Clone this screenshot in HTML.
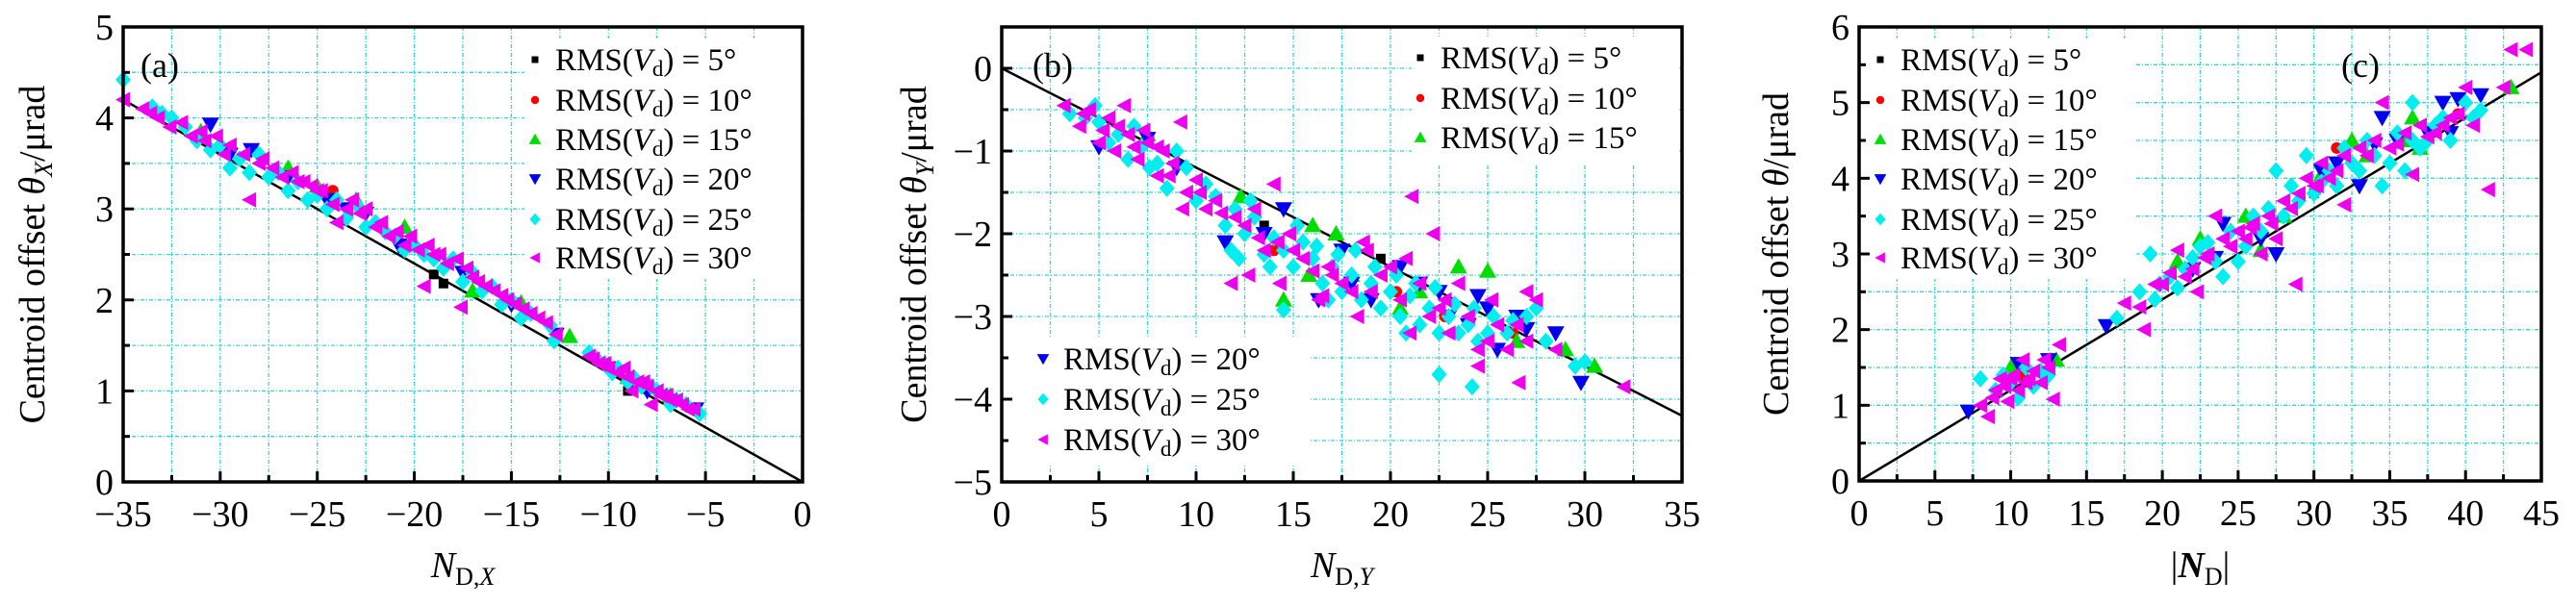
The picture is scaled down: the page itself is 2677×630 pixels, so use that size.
<!DOCTYPE html>
<html><head><meta charset="utf-8">
<style>
html,body{margin:0;padding:0;background:#fff;}
svg{display:block;}
svg text{font-family:"Liberation Serif","DejaVu Serif",serif;}
</style></head>
<body>
<svg id="chart" font-family="Liberation Serif, serif" width="2677" height="630" viewBox="0 0 2677 630" xmlns="http://www.w3.org/2000/svg"></svg>
<script>
// ---------- data: panel (a) ----------
const aBlack=[[-19,2.28],[-18.5,2.18],[-9,1.0]];
const aRed=[[-24.2,3.2],[-21,2.7]];
const aGreen=[[-31,3.85],[-26.5,3.45],[-25,3.25],[-20.5,2.8],[-17,2.1],[-14.5,1.97],[-9,1.15],[-6.8,0.95],[-23,3.1],[-12,1.6]];
const aBlue=[[-30.5,3.93],[-28.4,3.65],[-26.5,3.35],[-24.5,3.1],[-22.5,2.95],[-20.8,2.6],[-17.5,2.3],[-15,1.95],[-12.7,1.62],[-10,1.25],[-8,1.0],[-5.5,0.8],[-29.5,3.6],[-23.5,3.0]];
const aCyan=[[-35,4.42],[-33.5,4.12],[-32.5,4.0],[-31.2,3.75],[-30,3.7],[-29,3.55],[-28,3.6],[-27,3.4],[-26,3.3],[-25,3.15],[-24,3.1],[-23,3.05],[-22,2.85],[-21,2.7],[-20,2.6],[-19,2.45],[-18,2.45],[-17,2.3],[-16,2.15],[-15,2.0],[-14,1.85],[-13,1.72],[-12.8,1.55],[-11,1.42],[-10.2,1.3],[-9.5,1.25],[-9,1.1],[-8.3,1.05],[-7.5,1.0],[-7,0.95],[-6.5,0.9],[-6,0.85],[-5.3,0.75],[-33,4.05],[-31.8,3.9],[-30.5,3.65],[-29.5,3.45],[-28.5,3.4],[-27.5,3.35],[-26.5,3.2],[-25.5,3.1],[-24.5,3.0],[-23.5,2.9],[-22.5,2.8],[-21.5,2.75],[-20.5,2.55],[-19.5,2.5],[-18.5,2.35],[-17.5,2.2],[-16.5,2.1],[-15.5,1.95],[-14.5,1.8],[-10.6,1.35],[-9.8,1.2],[-8.7,1.15],[-7.8,1.05],[-6.8,0.85]];
const aMagenta=[[-34,4.1],[-33.2,4.0],[-32,3.95],[-31,3.85],[-30.2,3.8],[-29.5,3.7],[-28.8,3.6],[-28.5,3.1],[-28,3.5],[-27.3,3.45],[-26.8,3.35],[-26,3.3],[-25.3,3.25],[-24.8,3.2],[-24.2,3.05],[-24,2.85],[-23.5,3.0],[-22.8,2.95],[-22,2.8],[-21.3,2.7],[-20.5,2.6],[-19.8,2.55],[-19.5,2.15],[-19,2.5],[-18.3,2.4],[-17.8,2.45],[-17.6,1.92],[-17,2.25],[-16.3,2.15],[-15.5,2.05],[-14.8,1.95],[-14,1.85],[-13.2,1.75],[-12.7,1.62],[-11,1.38],[-10.5,1.3],[-10,1.25],[-9.5,1.2],[-9,1.15],[-8.8,1.0],[-8.5,1.1],[-8,1.05],[-7.8,0.85],[-7.3,0.95],[-6.8,0.9],[-6.2,0.85],[-5.6,0.8],[-35,4.2],[-33.6,4.05],[-32.6,3.9],[-31.5,3.8],[-30.8,3.75],[-29.8,3.6],[-27.8,3.55],[-26.3,3.4],[-25.7,3.3],[-25,3.2],[-23.2,3.1],[-22.5,3.0],[-21.7,2.85],[-20.9,2.75],[-20.2,2.7],[-19.3,2.6],[-18.7,2.5],[-17.3,2.35],[-16.7,2.2],[-15.9,2.1],[-15.2,2.0],[-14.4,1.9],[-13.6,1.8],[-10.8,1.35],[-10.2,1.3],[-9.2,1.25],[-8.2,1.1],[-7.5,1.0],[-7,0.95],[-6.5,0.9],[-5.9,0.8]];
// ---------- data: panel (b) ----------
const bBlack=[[13.5,-1.9],[19.5,-2.3]];
const bRed=[[20.3,-2.7],[22.8,-3.0],[26.3,-3.2],[14,-2.2]];
const bGreen=[[7.5,-0.8],[12.3,-1.55],[14.5,-2.8],[16,-1.9],[17.2,-2.0],[18,-2.5],[20.5,-2.9],[23.5,-2.4],[25,-2.45],[26.5,-3.3],[29,-3.4],[30.5,-3.6],[15.8,-2.5],[21.5,-2.7]];
const bBlue=[[5,-0.95],[7.5,-0.85],[9,-1.2],[11.5,-2.1],[14.5,-1.7],[16.3,-2.8],[17.5,-2.2],[19,-2.8],[20.5,-2.4],[21.5,-2.6],[22.5,-2.7],[23,-3.0],[24,-3.1],[25,-2.9],[26.5,-3.0],[28.5,-3.2],[29.8,-3.8],[25.5,-3.4],[13.5,-2.0],[18,-2.6],[24.5,-2.75],[27,-3.15]];
const bCyan=[[3.5,-0.55],[4.3,-0.6],[5,-0.65],[6,-0.8],[6.5,-1.1],[7.2,-0.95],[8,-1.15],[8.5,-1.45],[9.5,-1.2],[10,-1.6],[11,-1.55],[11.5,-1.9],[12.5,-2.0],[13,-1.8],[13.5,-2.25],[14,-2.05],[14.5,-2.2],[15,-2.4],[15.5,-2.1],[16,-2.3],[16.5,-2.6],[17,-2.4],[17.5,-2.7],[18,-2.5],[18.5,-2.8],[19,-2.6],[19.5,-2.9],[20,-2.7],[20.5,-3.0],[21,-2.75],[21.5,-3.1],[22,-2.9],[22.5,-3.2],[23,-3.0],[23.5,-3.2],[24,-3.1],[24.5,-3.3],[25,-3.2],[26,-3.2],[27,-3.0],[27.5,-2.9],[28,-3.3],[30,-3.55],[29.5,-3.6],[24.2,-3.85],[22.5,-3.7],[14.5,-2.92],[11.8,-2.2],[12,-1.7],[4.8,-0.45],[5.5,-0.9],[6.8,-0.7],[7.6,-1.2],[9,-1.0],[10.5,-1.4],[12.8,-1.6],[13.8,-2.4],[15.2,-1.9],[16.2,-2.15],[17.3,-2.25],[18.2,-2.2],[19.2,-2.4],[20.3,-2.5],[21.3,-2.6],[22.3,-2.65],[23.3,-2.85],[24.3,-2.9],[25.3,-3.0],[26.3,-3.05],[20.8,-3.2],[16.8,-2.8],[12.2,-2.3]];
const bMagenta=[[3.2,-0.45],[4,-0.7],[4.5,-0.5],[5,-0.9],[5.5,-0.6],[5.8,-1.0],[6.3,-0.45],[6.5,-0.8],[7,-1.1],[7.5,-0.9],[8,-1.3],[8.3,-1.0],[8.6,-1.3],[9.2,-0.65],[9.5,-1.5],[10,-1.35],[10.5,-1.7],[11,-1.6],[11.8,-2.6],[12.5,-1.9],[13,-1.7],[13.5,-2.2],[14,-1.4],[14.3,-2.6],[14.8,-2.0],[15.5,-2.3],[16.3,-2.8],[16.8,-2.4],[17.5,-2.6],[18.3,-3.0],[18.8,-2.2],[19.5,-2.5],[20,-2.4],[20.8,-2.3],[21,-3.2],[21.5,-2.6],[22,-3.0],[22.5,-2.9],[23,-3.2],[23.5,-2.6],[24,-3.0],[24.5,-3.4],[25.2,-2.8],[25.5,-3.1],[26,-3.4],[26.5,-3.1],[27,-3.3],[27.5,-2.8],[28.5,-3.4],[24.5,-3.6],[26.6,-3.8],[32,-3.85],[22.2,-2.0],[21.1,-1.55],[9.3,-1.7],[18.6,-2.1],[4.2,-0.55],[5.2,-0.75],[6,-0.7],[6.8,-0.95],[7.3,-0.75],[8,-0.95],[8.8,-1.15],[10.2,-1.5],[11.3,-1.75],[12,-1.8],[13.2,-2.05],[14.2,-2.1],[15,-2.2],[16,-2.45],[17,-2.5],[18,-2.7],[19,-2.7],[20.5,-2.8],[22.8,-2.8],[25,-3.3],[27,-2.7],[16.5,-2.75],[12.7,-2.5]];
// ---------- data: panel (c) ----------
const cBlack=[[11,1.3],[30,3.8]];
const cRed=[[31.5,4.4],[39.5,4.85],[10.8,1.4]];
const cGreen=[[10,1.5],[13,1.6],[21,2.9],[22.5,3.2],[25.5,3.5],[26.5,3.05],[28,3.5],[32.5,4.5],[33.5,4.3],[36.5,4.8],[37,4.4],[43,5.2],[30.5,4.05],[36,4.5]];
const cBlue=[[7.2,0.92],[10.5,1.55],[12.5,1.6],[16.3,2.05],[22,2.8],[23.5,2.95],[24,3.4],[26.5,3.2],[27.5,3.0],[30.5,4.1],[33,3.9],[34.5,4.8],[35.5,4.5],[38.5,5.0],[39.5,5.05],[41,5.1],[39,4.6],[31.5,4.2],[34,4.45],[37.5,4.6]];
const cCyan=[[8,1.35],[9,1.2],[10,1.3],[10.5,1.1],[11,1.5],[12,1.45],[12.5,1.4],[17,2.15],[18.5,2.5],[19.2,3.0],[19.5,2.4],[20.5,2.7],[21.5,2.8],[22.5,3.1],[23.5,2.9],[24,2.7],[24.5,3.3],[25,2.9],[26,3.5],[26.5,3.3],[27,3.6],[27.5,4.1],[28,3.5],[29,3.7],[30,3.8],[31,4.1],[31.5,3.9],[32,4.4],[33,4.1],[34,4.3],[35,4.2],[35.5,4.6],[36,4.1],[36.5,5.0],[37,4.4],[38,4.7],[39,4.5],[40,5.0],[41,4.9],[34.5,3.9],[29.5,4.3],[9.5,1.4],[11.5,1.25],[19.8,2.6],[21,2.55],[22,2.95],[23,3.15],[25.5,3.1],[28.5,3.9],[30.5,3.95],[32.5,4.2],[33.5,4.5],[36.5,4.5],[37.5,4.5],[38.5,4.8],[40.5,4.8]];
const cMagenta=[[8,1.0],[8.5,0.85],[9,1.2],[9.3,1.35],[9.8,1.05],[10.2,1.4],[10.5,1.2],[10.8,1.6],[11,1.3],[11.5,1.45],[12,1.3],[12.5,1.5],[12.8,1.08],[13.2,1.8],[17.5,2.35],[18.5,2.3],[18.8,2.0],[19.5,2.6],[20.5,2.75],[21,3.05],[22,2.8],[22.3,2.5],[23,3.0],[23.5,3.5],[24,3.2],[25,3.3],[26,3.4],[26.5,3.0],[27,3.5],[27.5,3.2],[28,3.7],[28.8,2.6],[29,3.8],[29.5,4.0],[30,3.9],[30.5,4.2],[31,4.0],[32,4.3],[33,4.4],[34,4.5],[34.5,5.0],[35,4.4],[36,4.6],[36.5,4.05],[37,4.7],[38,4.6],[39,4.8],[40,5.2],[40.5,4.7],[41.5,3.85],[42.5,5.2],[43,5.7],[44,5.7],[32,3.65],[25.5,3.2],[8.8,1.1],[9.6,1.25],[10,1.35],[11.2,1.35],[12.2,1.6],[20,2.6],[21.5,2.7],[22.8,2.95],[24.5,3.1],[25.8,3.35],[27.2,3.4],[28.5,3.6],[30.2,3.9],[31.5,4.1],[33.5,4.3],[35.5,4.45],[37.5,4.55],[38.5,4.7],[39.5,4.85]];
// fit lines (endpoints in data units)
const aFit=[[-35,4.2],[0,0]];
const bFit=[[0,0],[35,-4.2]];
const cFit=[[0,0],[45,5.4]];
const aXTicks=[-35,-30,-25,-20,-15,-10,-5,0];
const aYTicks=[0,1,2,3,4,5];
const bXTicks=[0,5,10,15,20,25,30,35];
const bYTicks=[0,-1,-2,-3,-4,-5];
const cXTicks=[0,5,10,15,20,25,30,35,40,45];
const cYTicks=[0,1,2,3,4,5,6];
const legendLabels=["5°","10°","15°","20°","25°","30°"];

const NS="http://www.w3.org/2000/svg";
const svg=document.getElementById('chart');
function el(tag,attrs,parent){const e=document.createElementNS(NS,tag);for(const k in attrs)e.setAttribute(k,attrs[k]);(parent||svg).appendChild(e);return e;}
const COLORS=['#000000','#ff0000','#00dd00','#0000ee','#00eeee','#ee00ee'];
const KINDS=['square','circle','up','down','diamond','left'];
function marker(g,kind,x,y,color,sc){
  const k=sc||1;
  let e;
  if(kind==='square'){e=el('rect',{x:x-5*k,y:y-5*k,width:10*k,height:10*k,fill:color},g);}
  else if(kind==='circle'){e=el('circle',{cx:x,cy:y,r:6*k,fill:color},g);}
  else{
    let p;
    if(kind==='up')p=[[x,y-9*k],[x-9*k,y+7*k],[x+9*k,y+7*k]];
    else if(kind==='down')p=[[x,y+9*k],[x-9*k,y-7*k],[x+9*k,y-7*k]];
    else if(kind==='diamond')p=[[x,y-9*k],[x+8*k,y],[x,y+9*k],[x-8*k,y]];
    else p=[[x-8*k,y],[x+7*k,y-8*k],[x+7*k,y+8*k]];
    e=el('polygon',{points:p.map(q=>q.join(',')).join(' '),fill:color},g);
  }
  return e;
}
function panel(o){
  const g=el('g',{});
  
  
  const sx=v=>o.L+(v-o.x0)/(o.x1-o.x0)*(o.R-o.L);
  const sy=v=>o.B-(v-o.y0)/(o.y1-o.y0)*(o.B-o.T);
  const grid=el('g',{stroke:'#33d6d6','stroke-width':1.3,'stroke-dasharray':'4,2,1,2'},g);
  
  
  const dx=(o.xt[1]-o.xt[0])/2, dy=(o.yt[1]-o.yt[0])/2;
  for(let i=0;i<o.xt.length*2;i++){const v=Math.min(o.xt[0],o.xt[o.xt.length-1])+Math.abs(dx)*i;if(v>Math.max(o.x0,o.x1)-1e-9||v<=Math.min(o.x0,o.x1)+1e-9)continue;el('line',{x1:sx(v),x2:sx(v),y1:o.T,y2:o.B},grid);}
  for(let i=0;i<o.yt.length*2;i++){const v=Math.min(o.yt[0],o.yt[o.yt.length-1])+Math.abs(dy)*i;if(v>=Math.max(o.y0,o.y1)-1e-9||v<=Math.min(o.y0,o.y1)+1e-9)continue;el('line',{x1:o.L,x2:o.R,y1:sy(v),y2:sy(v)},grid);}
  o.boxes.forEach(b=>el('rect',{x:b[0],y:b[1],width:b[2],height:b[3],fill:'#fff'},g));
  const fl=el('line',{x1:sx(o.fit[0][0]),y1:sy(o.fit[0][1]),x2:sx(o.fit[1][0]),y2:sy(o.fit[1][1]),stroke:'#000','stroke-width':2.5},g);
  
  
  o.series.forEach((s,i)=>{
    const sg=el('g',{},g);
    
    
    s.forEach(p=>{const m=marker(sg,KINDS[i],sx(p[0]),sy(p[1]),COLORS[i]);
      
      });
  });
  const tk=el('g',{stroke:'#000','stroke-width':3},g);
  for(let i=0;i<o.xt.length*2;i++){const v=Math.min(o.xt[0],o.xt[o.xt.length-1])+Math.abs(dx)*i;if(v>Math.max(o.x0,o.x1)+1e-9)break;const len=(i%2===0)?11:7;el('line',{x1:sx(v),x2:sx(v),y1:o.B,y2:o.B-len},tk);}
  for(let i=0;i<o.yt.length*2;i++){const v=Math.min(o.yt[0],o.yt[o.yt.length-1])+Math.abs(dy)*i;if(v>Math.max(o.y0,o.y1)+1e-9)break;const len=(i%2===0)?11:7;el('line',{x1:o.L,x2:o.L+len,y1:sy(v),y2:sy(v)},tk);}
  const fr=el('rect',{x:o.L,y:o.T,width:o.R-o.L,height:o.B-o.T,fill:'none',stroke:'#000','stroke-width':3.5},g);
  
  
  o.xt.forEach(v=>{const t=el('text',{x:sx(v),y:o.B+46,'font-size':38,'text-anchor':'middle'},g);t.textContent=(v<0?'\u2212'+(-v):String(v));
    
    });
  o.yt.forEach(v=>{const t=el('text',{x:o.L-10,y:sy(v)+13,'font-size':38,'text-anchor':'end'},g);t.textContent=(v<0?'\u2212'+(-v):String(v));
    
    });
  const pl=el('text',{x:o.lab[0],y:o.lab[1],'font-size':36},g);pl.textContent=o.labText;
  
  
  o.leg.forEach(l=>{
    const lg=el('g',{},g);
    
    
    marker(lg,KINDS[l[0]],l[1],l[2],COLORS[l[0]],0.7);
    const t=el('text',{x:l[1]+21,y:l[2]+11,'font-size':33},lg);
    t.innerHTML='RMS(<tspan font-style="italic">V</tspan><tspan font-size="23" dy="6">d</tspan><tspan dy="-6">) = '+legendLabels[l[0]]+'</tspan>';
  });
  const xt=el('text',{x:(o.L+o.R)/2,y:600,'font-size':38,'text-anchor':'middle'},g);
  xt.innerHTML=o.xTitle;
  
  
  const yt=el('text',{x:0,y:0,'font-size':38,'text-anchor':'middle',transform:'translate('+o.yTitleX+','+(o.T+o.B)/2+') rotate(-90)'},g);
  yt.innerHTML=o.yTitle;
  
  
}
const rows=[62,104,145,186,228,268];
panel({name:'panel-a',L:128,R:834,T:28,B:501,x0:-35,x1:0,y0:0,y1:5,xt:aXTicks,yt:aYTicks,fit:aFit,
  series:[aBlack,aRed,aGreen,aBlue,aCyan,aMagenta],boxes:[[545,40,287,250]],lab:[146,80],labText:'(a)',
  leg:[0,1,2,3,4,5].map(i=>[i,556,rows[i]]),
  xTitle:'<tspan font-style="italic">N</tspan><tspan font-size="26" dy="8">D,<tspan font-style="italic">X</tspan></tspan>',
  yTitle:'Centroid offset <tspan font-style="italic">θ</tspan><tspan font-size="26" dy="8" font-style="italic">X</tspan><tspan dy="-8">/μrad</tspan>',yTitleX:46});
panel({name:'panel-b',L:1041,R:1748,T:28,B:501,x0:0,x1:35,y0:-5,y1:0.5,xt:bXTicks,yt:bYTicks,fit:bFit,
  series:[bBlack,bRed,bGreen,bBlue,bCyan,bMagenta],boxes:[[1467,38,278,132],[1046,350,316,132]],lab:[1073,80],labText:'(b)',
  leg:[[0,1476,60],[1,1476,102],[2,1476,143],[3,1084,373],[4,1084,415],[5,1084,457]],
  xTitle:'<tspan font-style="italic">N</tspan><tspan font-size="26" dy="8">D,<tspan font-style="italic">Y</tspan></tspan>',
  yTitle:'Centroid offset <tspan font-style="italic">θ</tspan><tspan font-size="26" dy="8" font-style="italic">Y</tspan><tspan dy="-8">/μrad</tspan>',yTitleX:962});
panel({name:'panel-c',L:1932,R:2641,T:28,B:500,x0:0,x1:45,y0:0,y1:6,xt:cXTicks,yt:cYTicks,fit:cFit,
  series:[cBlack,cRed,cGreen,cBlue,cCyan,cMagenta],boxes:[[1937,40,283,250]],lab:[2433,80],labText:'(c)',
  leg:[0,1,2,3,4,5].map(i=>[i,1954,rows[i]]),
  xTitle:'|<tspan font-style="italic" font-weight="bold">N</tspan><tspan font-size="26" dy="8">D</tspan><tspan dy="-8">|</tspan>',
  yTitle:'Centroid offset <tspan font-style="italic">θ</tspan>/μrad',yTitleX:1858});
</script>
</body></html>
